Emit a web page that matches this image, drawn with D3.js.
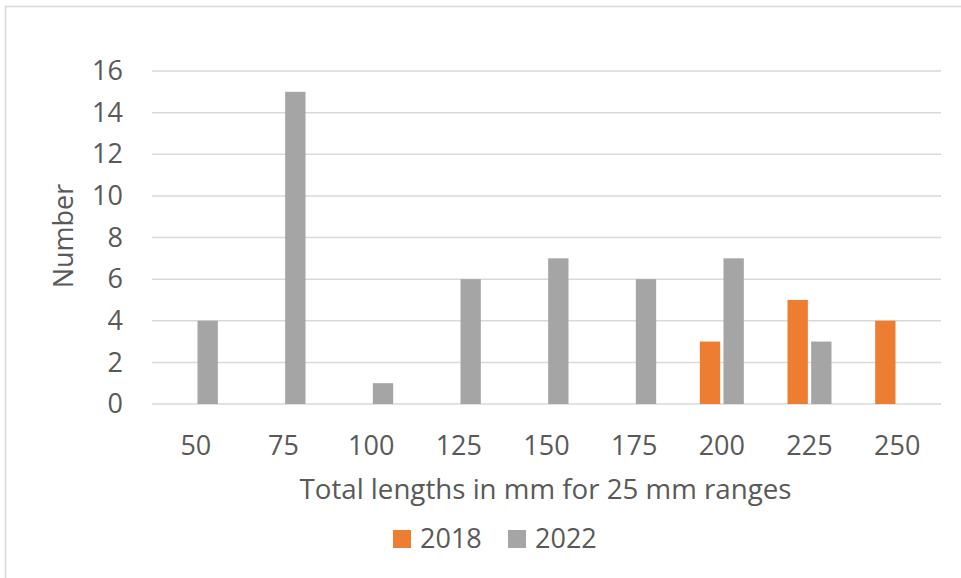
<!DOCTYPE html>
<html>
<head>
<meta charset="utf-8">
<script src="https://cdn.jsdelivr.net/npm/d3@7"></script>
<style>
  html, body { margin: 0; padding: 0; background: #fff; }
  svg { display: block; font-family: "Open Sans", "Noto Sans", sans-serif; }
</style>
</head>
<body>
<svg id="chart" width="961" height="578"></svg>
<script>
// Length classes (mm, 25 mm ranges)
const categories = ["50", "75", "100", "125", "150", "175", "200", "225", "250"];
const seriesNames = ["2018", "2022"];
const values2018 = [0, 0, 0, 0, 0, 0, 3, 5, 4];
const values2022 = [4, 15, 1, 6, 7, 6, 7, 3, 0];
const yTicks = [0, 2, 4, 6, 8, 10, 12, 14, 16];
const colors = ["#ED7D31", "#A5A5A5"];

const svg = d3.select("#chart");
const W = 961, H = 578;
const plot = { left: 152, right: 941, top: 71, bottom: 404 };
const textColor = "#595959";
const gridColor = "#D9D9D9";
const fontSize = 27;
const fontFamily = "'Open Sans', 'Noto Sans', sans-serif";

// chart frame
svg.append("path")
  .attr("d", `M5.5,${H} L5.5,6.5 L${W},6.5`)
  .attr("fill", "none")
  .attr("stroke", gridColor)
  .attr("stroke-width", 1.5);

const x0 = d3.scaleBand().domain(categories).range([plot.left, plot.right]).paddingInner(0).paddingOuter(0);
const x1 = d3.scaleBand().domain(seriesNames).range([0, 44]).paddingInner(0.14);
const groupOffset = (x0.bandwidth() - 44) / 2;
const y = d3.scaleLinear().domain([0, 16]).range([plot.bottom, plot.top]);

// gridlines
svg.append("g").selectAll("line").data(yTicks).join("line")
  .attr("x1", plot.left).attr("x2", plot.right)
  .attr("y1", d => y(d)).attr("y2", d => y(d))
  .attr("stroke", gridColor).attr("stroke-width", 1.5);

// y axis labels
const yAxis = d3.axisLeft(y).tickValues(yTicks).tickSize(0).tickPadding(0);
const gy = svg.append("g").attr("transform", `translate(123,0)`).call(yAxis);
gy.select(".domain").remove();
gy.selectAll("text").attr("fill", textColor).attr("font-size", fontSize).attr("font-family", fontFamily);

// x axis labels
const xAxis = d3.axisBottom(x0).tickSize(0).tickPadding(0);
const gx = svg.append("g").attr("transform", `translate(0,436)`).call(xAxis);
gx.select(".domain").remove();
gx.selectAll("text").attr("fill", textColor).attr("font-size", fontSize).attr("font-family", fontFamily);

// bars
const rows = categories.map((c, i) => ({ cat: c, vals: [values2018[i], values2022[i]] }));
const groups = svg.append("g").selectAll("g").data(rows).join("g")
  .attr("transform", d => `translate(${x0(d.cat) + groupOffset},0)`);
groups.selectAll("rect")
  .data(d => d.vals.map((v, j) => ({ series: seriesNames[j], v, j })))
  .join("rect")
  .attr("x", d => x1(d.series))
  .attr("width", x1.bandwidth())
  .attr("y", d => y(d.v))
  .attr("height", d => y(0) - y(d.v))
  .attr("fill", d => colors[d.j]);

// axis titles
svg.append("text")
  .attr("x", (plot.left + plot.right) / 2 - 1).attr("y", 499)
  .attr("text-anchor", "middle").attr("fill", textColor).attr("font-size", 27.7)
  .text("Total lengths in mm for 25 mm ranges");

svg.append("text")
  .attr("transform", `translate(73,236) rotate(-90)`)
  .attr("text-anchor", "middle").attr("fill", textColor).attr("font-size", fontSize)
  .text("Number");

// legend
const legend = svg.append("g");
const legendX = [393, 508];
seriesNames.forEach((name, i) => {
  legend.append("rect").attr("x", legendX[i]).attr("y", 530).attr("width", 18).attr("height", 18).attr("fill", colors[i]);
  legend.append("text").attr("x", legendX[i] + 27).attr("y", 548)
    .attr("fill", textColor).attr("font-size", fontSize).text(name);
});
</script>
</body>
</html>
